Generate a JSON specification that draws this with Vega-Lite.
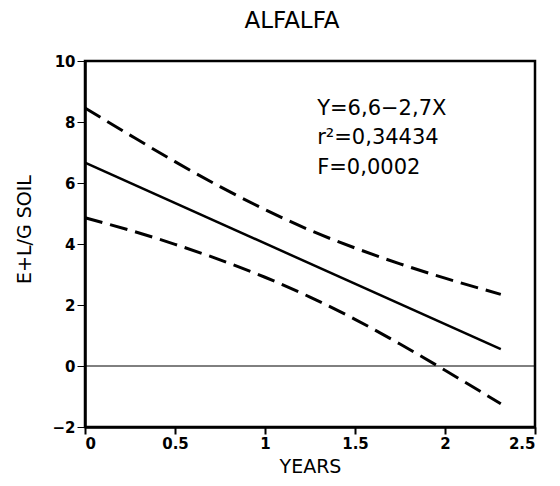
{
  "$schema": "https://vega.github.io/schema/vega-lite/v6.json",
  "width": 450,
  "height": 366,
  "autosize": "none",
  "padding": {"left": 85, "top": 61, "right": 25, "bottom": 59},
  "background": "white",
  "config": {
    "view": {"stroke": "black", "strokeWidth": 2.5},
    "font": "DejaVu Sans"
  },
  "title": {
    "text": "ALFALFA",
    "fontSize": 23,
    "fontWeight": "normal",
    "font": "DejaVu Sans",
    "color": "black",
    "offset": 21,
    "dx": -18
  },
  "datasets": {
    "bands": [
      {"x": 0, "y": 8.46, "band": "upper"},
      {"x": 0.25, "y": 7.57, "band": "upper"},
      {"x": 0.5, "y": 6.7, "band": "upper"},
      {"x": 0.75, "y": 5.88, "band": "upper"},
      {"x": 1.0, "y": 5.13, "band": "upper"},
      {"x": 1.25, "y": 4.45, "band": "upper"},
      {"x": 1.5, "y": 3.87, "band": "upper"},
      {"x": 1.75, "y": 3.35, "band": "upper"},
      {"x": 2.0, "y": 2.88, "band": "upper"},
      {"x": 2.31, "y": 2.35, "band": "upper"},
      {"x": 0, "y": 4.86, "band": "lower"},
      {"x": 0.25, "y": 4.45, "band": "lower"},
      {"x": 0.5, "y": 3.99, "band": "lower"},
      {"x": 0.75, "y": 3.48, "band": "lower"},
      {"x": 1.0, "y": 2.91, "band": "lower"},
      {"x": 1.25, "y": 2.26, "band": "lower"},
      {"x": 1.5, "y": 1.53, "band": "lower"},
      {"x": 1.75, "y": 0.72, "band": "lower"},
      {"x": 2.0, "y": -0.14, "band": "lower"},
      {"x": 2.31, "y": -1.24, "band": "lower"}
    ],
    "fit": [
      {"x": 0, "y": 6.67},
      {"x": 2.31, "y": 0.55}
    ],
    "zero": [{"y": 0}],
    "notes": [
      {"x": 1.29, "y": 8.23, "label": "Y=6,6−2,7X"},
      {"x": 1.29, "y": 7.28, "label": "r²=0,34434"},
      {"x": 1.29, "y": 6.3, "label": "F=0,0002"}
    ]
  },
  "layer": [
    {
      "data": {"name": "zero"},
      "mark": {"type": "rule", "color": "black", "strokeWidth": 1},
      "encoding": {
        "y": {
          "field": "y",
          "type": "quantitative",
          "scale": {"domain": [-2, 10], "nice": false, "zero": false},
          "axis": {
            "values": [-2, 0, 2, 4, 6, 8, 10],
            "format": "d",
            "grid": false,
            "domainColor": "black",
            "domainWidth": 2.5,
            "tickColor": "black",
            "tickSize": 8,
            "tickWidth": 1,
            "labelFont": "DejaVu Sans",
            "labelFontWeight": "bold",
            "labelFontSize": 15,
            "labelColor": "black",
            "labelPadding": 2,
            "title": "E+L/G SOIL",
            "titleFont": "DejaVu Sans",
            "titleFontSize": 19,
            "titleFontWeight": "normal",
            "titleColor": "black",
            "titlePadding": 17,
            "titleY": 168
          }
        }
      }
    },
    {
      "data": {"name": "bands"},
      "mark": {"type": "line", "color": "black", "strokeWidth": 3, "strokeDash": [18, 8], "interpolate": "monotone"},
      "encoding": {
        "x": {
          "field": "x",
          "type": "quantitative",
          "scale": {"domain": [0, 2.5], "nice": false, "zero": false},
          "axis": {
            "values": [0, 0.5, 1, 1.5, 2, 2.5],
            "format": "~g",
            "grid": false,
            "domainColor": "black",
            "domainWidth": 2.5,
            "tickColor": "black",
            "tickSize": 7,
            "tickWidth": 2,
            "labelFont": "DejaVu Sans",
            "labelFontWeight": "bold",
            "labelFontSize": 15,
            "labelColor": "black",
            "labelPadding": 2,
            "title": "YEARS",
            "titleFont": "DejaVu Sans",
            "titleFontSize": 19,
            "titleFontWeight": "normal",
            "titleColor": "black",
            "titlePadding": 6
          }
        },
        "y": {"field": "y", "type": "quantitative"},
        "detail": {"field": "band"}
      }
    },
    {
      "data": {"name": "fit"},
      "mark": {"type": "line", "color": "black", "strokeWidth": 2.5},
      "encoding": {
        "x": {"field": "x", "type": "quantitative"},
        "y": {"field": "y", "type": "quantitative"}
      }
    },
    {
      "data": {"name": "notes"},
      "mark": {"type": "text", "align": "left", "baseline": "alphabetic", "fontSize": 21, "font": "DejaVu Sans", "color": "black"},
      "encoding": {
        "x": {"field": "x", "type": "quantitative"},
        "y": {"field": "y", "type": "quantitative"},
        "text": {"field": "label"}
      }
    }
  ]
}
